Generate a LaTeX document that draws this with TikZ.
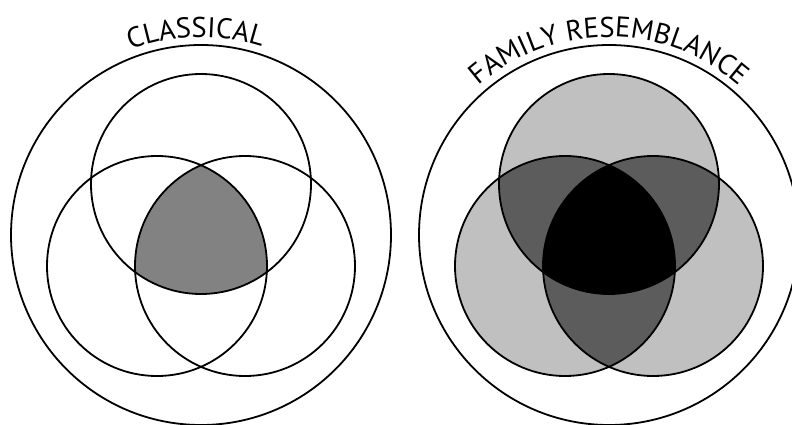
\documentclass[tikz,border=0pt]{standalone}
\usepackage{fontspec}
\setmainfont{PT Sans}
\usetikzlibrary{decorations.text}
\newcommand\lblfont{\fontsize{28.5}{29}\selectfont}
\definecolor{lightg}{RGB}{192,192,192}
\definecolor{darkg}{RGB}{92,92,92}
\definecolor{midg}{RGB}{130,130,130}
\begin{document}
\begin{tikzpicture}[x=1pt,y=1pt,
  ring/.style={draw=black, line width=1.8pt},
  arclabel/.style={decorate, decoration={text along path, text={|\lblfont|#1}, text align=center}}]
\useasboundingbox (0,0) rectangle (792,424);
\fill[white] (0,0) rectangle (792,424);
% ---------- left: classical ----------
\coordinate (LC) at (201,189);
\coordinate (LT) at (201,240);
\coordinate (LL) at (157,158);
\coordinate (LR) at (245,158);
\begin{scope}
  \clip (LT) circle (110);
  \clip (LL) circle (110);
  \fill[midg] (LR) circle (110);
\end{scope}
\draw[ring] (LC) circle (190);
\draw[ring] (LT) circle (110);
\draw[ring] (LL) circle (110);
\draw[ring] (LR) circle (110);
\path[arclabel=CLASSICAL] ([shift={(151.5:198)}]LC) arc[start angle=151.5, end angle=31.5, radius=198];
% ---------- right: family resemblance ----------
\coordinate (RC) at (609,189);
\coordinate (RT) at (609,240);
\coordinate (RL) at (565,158);
\coordinate (RR) at (653,158);
\fill[lightg] (RT) circle (110);
\fill[lightg] (RL) circle (110);
\fill[lightg] (RR) circle (110);
\begin{scope}
  \clip (RT) circle (110);
  \fill[darkg] (RL) circle (110);
  \fill[darkg] (RR) circle (110);
\end{scope}
\begin{scope}
  \clip (RL) circle (110);
  \fill[darkg] (RR) circle (110);
\end{scope}
\begin{scope}
  \clip (RT) circle (110);
  \clip (RL) circle (110);
  \fill[black] (RR) circle (110);
\end{scope}
\draw[ring] (RC) circle (190);
\draw[ring] (RT) circle (110);
\draw[ring] (RL) circle (110);
\draw[ring] (RR) circle (110);
\path[arclabel={FAMILY RESEMBLANCE}] ([shift={(131:198)}]RC) arc[start angle=131, end angle=49, radius=198];
\end{tikzpicture}
\end{document}
